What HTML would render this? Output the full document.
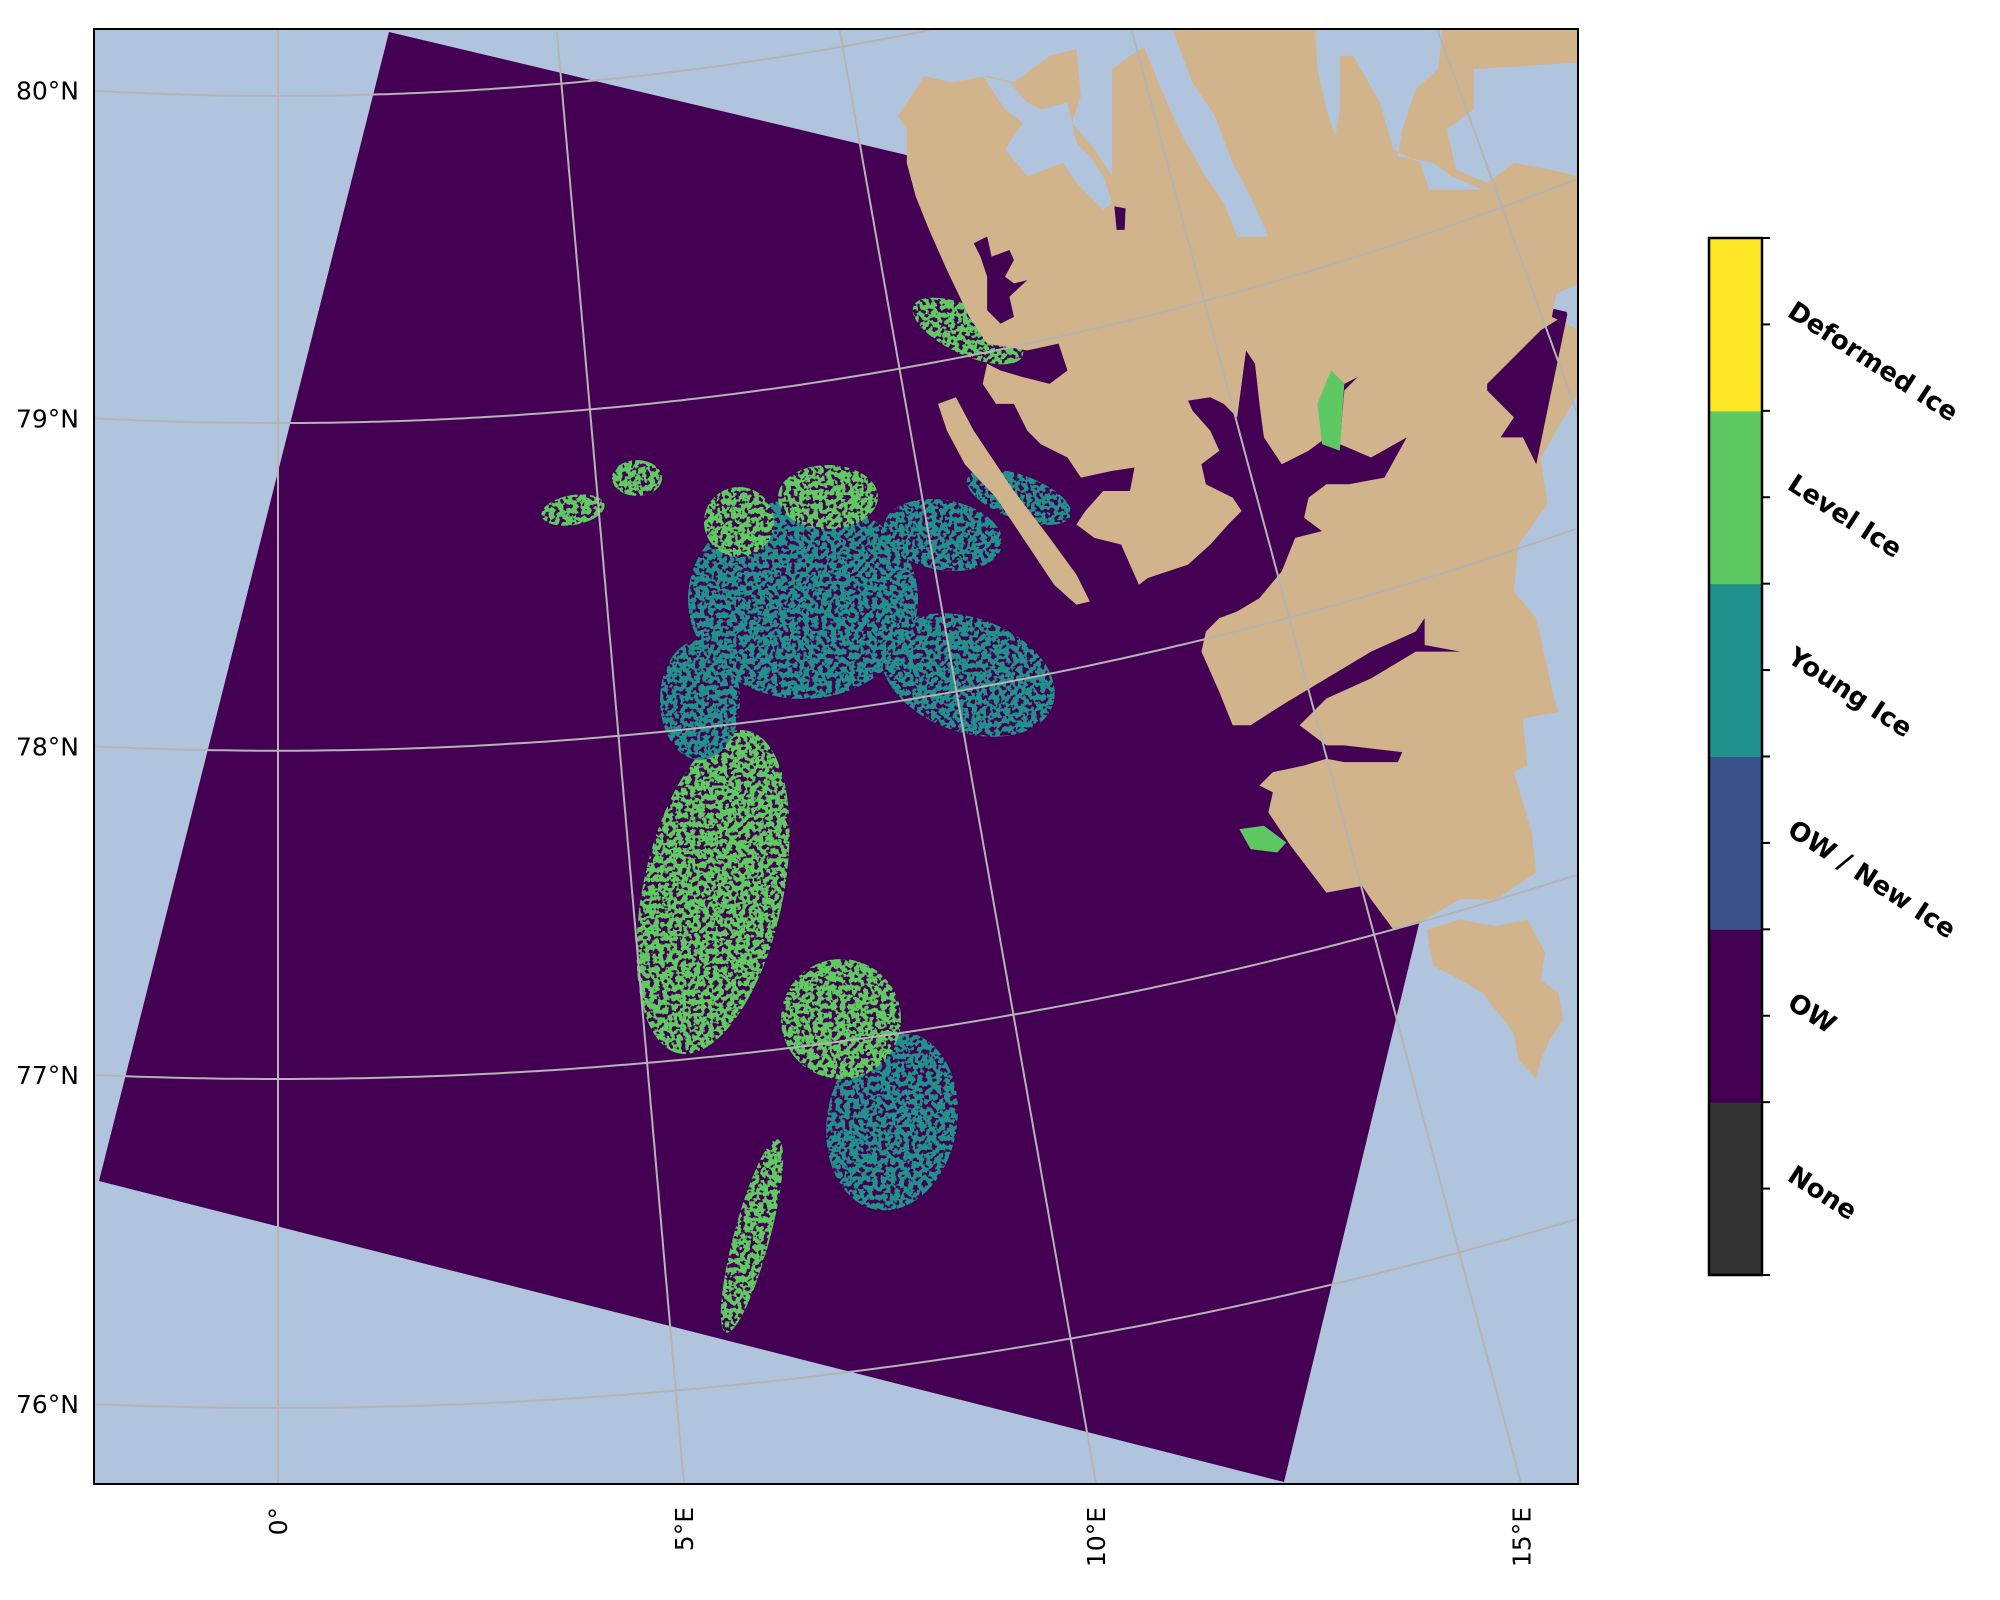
<!DOCTYPE html>
<html><head><meta charset="utf-8"><style>
html,body{margin:0;padding:0;background:#fff;width:2000px;height:1600px;overflow:hidden;}
svg{display:block;font-family:"DejaVu Sans","Liberation Sans",sans-serif;}
</style></head><body>
<svg id="fig" width="2000" height="1600" viewBox="0 0 2000 1600">
<defs>
<clipPath id="axclip"><rect x="94" y="29" width="1484" height="1455"/></clipPath>
<filter id="speck" x="-20%" y="-20%" width="140%" height="140%">
<feTurbulence type="fractalNoise" baseFrequency="0.22" numOctaves="2" seed="7" result="n"/>
<feColorMatrix in="n" type="matrix" values="0 0 0 0 0  0 0 0 0 0  0 0 0 0 0  0 0 0 16 -6.6" result="m"/>
<feComposite in="SourceGraphic" in2="m" operator="in"/>
</filter>
</defs>
<g clip-path="url(#axclip)">
<rect x="94" y="29" width="1484" height="1455" fill="#b0c4de"/>
<polygon points="389,32 1567,312 1284,1482 99,1181" fill="#440154"/>
<g id="ice" filter="url(#speck)"></g>
<g transform="translate(880,29) scale(0.44643,0.66952)">
<polygon fill="#d2b48c" points="40,130 100,70 160,80 240,70 300,80 380,40 440,30 450,100 430,140 480,180 520,220 520,60 560,40 660,0 1568,0 1568,380 1515,395 1505,430 1568,450 1568,540 1480,640 1495,710 1430,770 1420,840 1470,880 1510,1000 1520,1020 1440,1030 1450,1100 1420,1110 1460,1200 1470,1260 1380,1300 1300,1300 1220,1330 1150,1345 1100,1300 1080,1280 1000,1290 920,1220 870,1170 880,1140 850,1130 880,1110 950,1100 1000,1090 1040,1095 1160,1095 1170,1080 1040,1070 1000,1070 980,1060 940,1040 1000,1000 1100,970 1200,930 1300,930 1220,920 1220,880 1200,900 1100,930 1000,970 900,1010 830,1040 790,1040 760,990 720,930 730,900 760,880 800,870 850,850 900,810 930,760 990,750 950,730 960,700 1000,680 1050,680 1130,670 1180,610 1100,640 1030,620 1040,540 1070,520 1040,530 1010,510 1000,610 960,630 900,650 860,610 850,560 840,500 820,480 810,530 800,580 770,560 740,550 690,555 700,570 740,600 760,630 720,650 730,680 760,690 790,700 810,720 780,740 740,770 690,800 600,820 580,830 540,770 480,760 440,740 460,720 500,690 560,690 570,655 520,660 450,670 420,640 360,620 330,600 300,560 260,560 230,530 240,500 270,510 320,520 380,530 420,510 400,470 330,480 240,470 200,430 150,360 110,300 80,250 60,200 60,150"/>
<polygon fill="#d2b48c" points="130,560 170,550 210,600 300,690 380,760 440,815 470,855 440,860 390,830 320,760 260,700 190,650 150,600"/>
<polygon fill="#d2b48c" points="1225,1345 1300,1330 1380,1340 1450,1330 1490,1380 1480,1420 1520,1440 1530,1480 1500,1510 1480,1540 1470,1568 1430,1540 1420,1500 1350,1440 1300,1420 1240,1400 1230,1370"/>
<polygon fill="#440154" points="210,320 240,310 250,340 290,330 300,345 280,370 300,380 330,375 290,400 300,430 270,440 240,420 240,370 225,340"/>
<polygon fill="#440154" points="525,265 550,268 548,300 530,300"/>
<polygon fill="#440154" points="1360,530 1480,450 1540,425 1470,650 1440,610 1390,610 1420,580 1360,540"/>
<polygon fill="#b0c4de" points="575,0 655,0 700,80 750,130 790,200 830,250 870,310 800,310 770,260 720,210 670,150 630,90"/>
<polygon fill="#b0c4de" points="975,0 1260,0 1250,60 1200,90 1170,150 1160,190 1240,200 1280,220 1350,240 1230,240 1210,200 1150,180 1120,110 1060,40 1030,40 1030,120 1020,160 1000,120 980,60"/>
<polygon fill="#b0c4de" points="230,70 290,80 330,110 360,120 420,110 430,140 440,170 470,190 500,220 520,260 500,270 440,230 410,200 330,220 280,180 320,140 280,120"/>
<polygon fill="#b0c4de" points="1330,60 1568,50 1568,220 1500,210 1420,200 1360,230 1290,210 1270,150 1330,120"/>
<polygon fill="#5ec962" points="980,560 1010,510 1040,530 1030,630 990,620"/>
<polygon fill="#5ec962" points="805,1195 860,1190 910,1215 890,1230 830,1225"/>
</g>
<g id="grid" fill="none" stroke="#b4b4b4" stroke-width="2"></g>
</g>
<rect x="94" y="29" width="1484" height="1455" fill="none" stroke="#000" stroke-width="2"/>
<g id="latlabels" font-size="25" fill="#000"></g>
<g id="lonlabels" font-size="25" fill="#000"></g>
<g id="cbar"></g>
</svg>
<script>
// colorbar data
const classNames = ['None','OW','OW / New Ice','Young Ice','Level Ice','Deformed Ice'];
const classColors = ['#333333','#440154','#3b528b','#21918c','#5ec962','#fde725'];
// graticule data
const latValues = [76,77,78,79,80];
const lonValues = [-5,0,5,10,15,20];
const latTickLabels = ['76°N','77°N','78°N','79°N','80°N'];
const latTickValues = [76,77,78,79,80];
const lonTickLabels = ['0°','5°E','10°E','15°E'];
const lonTickValues = [0,5,10,15];
// ice patches: center x, y, rx, ry, rotation, class index
const iceX = [803,968,828,739,943,713,732,892,841,573,637,752,968,1019,700];
const iceY = [599,675,497,522,535,892,790,1121,1019,510,478,1236,331,497,700];
const iceRX = [115,90,50,35,60,70,45,65,60,32,25,18,60,55,40];
const iceRY = [100,57,32,35,35,165,50,90,60,15,18,100,24,22,60];
const iceRot = [0,20,0,0,10,12,0,10,0,-10,0,15,25,20,0];
const iceClass = [3,3,4,4,3,4,4,3,4,4,4,4,4,3,3];

const NS='http://www.w3.org/2000/svg';
function mk(t,a,p){const e=document.createElementNS(NS,t);for(const k in a)e.setAttribute(k,a[k]);p.appendChild(e);return e;}
const poleX=278, poleY=-3156, K=37170;
const AX0=94,AY0=29,AX1=1578,AY1=1484;
function proj(lat,lon){const r=K*Math.tan((90-lat)/2*Math.PI/180);const a=lon*Math.PI/180;return [poleX+r*Math.sin(a), poleY+r*Math.cos(a)];}
function inside(p){return p[0]>=AX0-4&&p[0]<=AX1+4&&p[1]>=AY0-4&&p[1]<=AY1+4;}

const ice=document.getElementById('ice');
for(let i=0;i<iceX.length;i++){
  const e=mk('ellipse',{cx:iceX[i],cy:iceY[i],rx:iceRX[i],ry:iceRY[i],fill:classColors[iceClass[i]],transform:`rotate(${iceRot[i]} ${iceX[i]} ${iceY[i]})`},ice);
  
  
}

const grid=document.getElementById('grid');
latValues.forEach(lat=>{
  let d='';for(let lon=-30;lon<=40;lon+=0.1){const p=proj(lat,lon);if(!inside(p))continue;d+=(d?'L':'M')+p[0].toFixed(1)+','+p[1].toFixed(1);}
  if(!d)return;
  const e=mk('path',{d:d},grid);
  
  
});
lonValues.forEach(lon=>{
  let d='';for(let lat=74;lat<=82;lat+=0.02){const p=proj(lat,lon);if(!inside(p))continue;d+=(d?'L':'M')+p[0].toFixed(1)+','+p[1].toFixed(1);}
  if(!d)return;
  const e=mk('path',{d:d},grid);
  
  
});
const latG=document.getElementById('latlabels');
latTickValues.forEach((lat,i)=>{
  const r=K*Math.tan((90-lat)/2*Math.PI/180);const dx=94-poleX;const y=poleY+Math.sqrt(r*r-dx*dx);
  const t=mk('text',{x:79,y:y+9,'text-anchor':'end'},latG);t.textContent=latTickLabels[i];
  
  
});
const lonG=document.getElementById('lonlabels');
lonTickValues.forEach((lon,i)=>{
  const dy=1484-poleY;const x=poleX+dy*Math.tan(lon*Math.PI/180);
  const t=mk('text',{x:0,y:0,'text-anchor':'end',transform:`translate(${x+9},1507) rotate(-90)`},lonG);t.textContent=lonTickLabels[i];
  
  
});
const cb=document.getElementById('cbar');
const cbX=1709,cbY=238,cbW=53,cbH=1037,n=classNames.length,seg=cbH/n;
for(let i=0;i<n;i++){
  const y=cbY+cbH-(i+1)*seg;
  const r=mk('rect',{x:cbX,y:y,width:cbW,height:seg+0.5,fill:classColors[i]},cb);
  
  
  const yc=y+seg/2;
  mk('line',{x1:cbX+cbW,y1:yc,x2:cbX+cbW+8,y2:yc,stroke:'#000','stroke-width':2},cb);
  const t=mk('text',{x:0,y:0,'font-size':26,'font-weight':'bold',transform:`translate(${cbX+cbW+24},${yc-9}) rotate(33)`},cb);
  t.textContent=classNames[i];
  
  
}
for(let i=0;i<=n;i++){const y=cbY+i*seg;mk('line',{x1:cbX+cbW,y1:y,x2:cbX+cbW+8,y2:y,stroke:'#000','stroke-width':2},cb);}
mk('rect',{x:cbX,y:cbY,width:cbW,height:cbH,fill:'none',stroke:'#000','stroke-width':2.5},cb);
</script>
</body></html>
